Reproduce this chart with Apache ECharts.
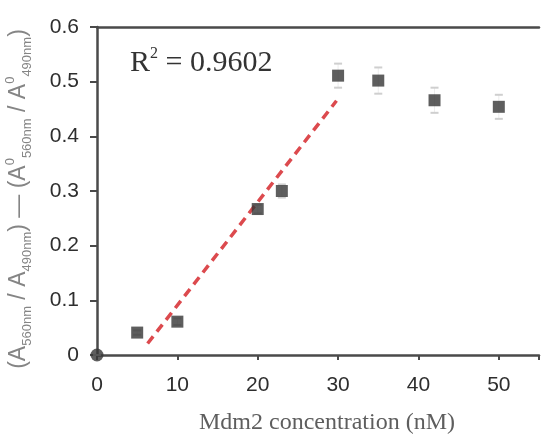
<!DOCTYPE html>
<html>
<head>
<meta charset="utf-8">
<style>
  html, body { margin: 0; padding: 0; background: #fff; }
  #chart { width: 542px; height: 437px; }
</style>
<script src="https://cdn.jsdelivr.net/npm/echarts@6/dist/echarts.min.js"></script>
</head>
<body>
<div id="chart"></div>
<script>
// Mdm2 titration: ratio change vs. concentration
const concentration = [0, 5, 10, 20, 23, 30, 35, 42, 50];          // nM
const ratioChange   = [0, 0.041, 0.061, 0.267, 0.300, 0.511, 0.502, 0.466, 0.454];
const ratioError    = [0, 0.004, 0.006, 0.008, 0.012, 0.022, 0.024, 0.023, 0.022];

// linear fit over the rising part (drawn dashed)
const trendX = [6.3, 29.8];
const trendY = [0.021, 0.465];
const rSquared = '0.9602';

const xTicks = [0, 10, 20, 30, 40, 50];
const yTicks = [0, 0.1, 0.2, 0.3, 0.4, 0.5, 0.6];

const sans = '"Liberation Sans", Arial, sans-serif';
const serif = '"Liberation Serif", "Times New Roman", serif';

const points = concentration.map((x, i) => {
  const p = { value: [x, ratioChange[i]] };
  if (x === 0) { p.symbol = 'circle'; p.symbolSize = 13; }
  return p;
});
const errData = concentration.map((x, i) => [x, ratioChange[i] - ratioError[i], ratioChange[i] + ratioError[i]]);
const trendData = trendX.map((x, i) => [x, trendY[i]]);

const chart = echarts.init(document.getElementById('chart'), null, { renderer: 'canvas' });

chart.setOption({
  animation: false,
  backgroundColor: '#ffffff',
  grid: { left: 97, top: 27, right: 0, bottom: 82, containLabel: false },
  xAxis: [{
    type: 'value', min: 0, max: 55, interval: 10,
    axisLine: { show: true, lineStyle: { color: '#4a4a4a', width: 2.5 } },
    axisTick: { show: true, length: 5, inside: false, lineStyle: { color: '#4a4a4a', width: 2 } },
    axisLabel: {
      margin: 20, fontFamily: sans, fontSize: 21, color: '#2e2e2e',
      formatter: v => xTicks.includes(v) ? String(v) : ''
    },
    splitLine: { show: false }
  }, {
    type: 'value', position: 'top', min: 0, max: 55,
    axisLine: { show: true, lineStyle: { color: '#4a4a4a', width: 2.5 } },
    axisTick: { show: false }, axisLabel: { show: false }, splitLine: { show: false }
  }],
  yAxis: {
    type: 'value', min: 0, max: 0.6, interval: 0.1,
    axisLine: { show: true, lineStyle: { color: '#4a4a4a', width: 2.5 } },
    axisTick: { show: true, length: 7, lineStyle: { color: '#4a4a4a', width: 2 } },
    axisLabel: {
      margin: 18, fontFamily: sans, fontSize: 21, color: '#2e2e2e',
      formatter: v => {
        const t = yTicks.find(k => Math.abs(k - v) < 1e-9);
        return t === undefined ? '' : (t === 0 ? '0' : t.toFixed(1));
      }
    },
    splitLine: { show: false }
  },
  series: [
    {
      // error bars (faint)
      type: 'custom',
      z: 1,
      data: errData,
      renderItem: (params, api) => {
        const x = api.value(0);
        const lo = api.coord([x, api.value(1)]);
        const hi = api.coord([x, api.value(2)]);
        const w = 4;
        return {
          type: 'group',
          children: [
            { type: 'line', shape: { x1: lo[0], y1: lo[1], x2: hi[0], y2: hi[1] },
              style: { stroke: '#ededed', lineWidth: 1 } },
            { type: 'line', shape: { x1: lo[0] - w, y1: lo[1], x2: lo[0] + w, y2: lo[1] },
              style: { stroke: '#cfcfcf', lineWidth: 2 } },
            { type: 'line', shape: { x1: hi[0] - w, y1: hi[1], x2: hi[0] + w, y2: hi[1] },
              style: { stroke: '#cfcfcf', lineWidth: 2 } }
          ]
        };
      }
    },
    {
      type: 'line',
      data: trendData,
      z: 2,
      symbol: 'none',
      lineStyle: { color: '#dc4a4e', width: 3.5, type: [9, 6] },
      silent: true
    },
    {
      type: 'scatter',
      data: points,
      z: 3,
      symbol: 'rect',
      symbolSize: 12,
      itemStyle: { color: '#363636', borderRadius: 2 }
    }
  ],
  graphic: [
    {
      type: 'text', left: 130, top: 44,
      style: {
        text: '{m|R}{s|2}{m| = ' + rSquared + '}',
        rich: {
          m: { fontFamily: serif, fontSize: 30, fill: '#333', lineHeight: 34, verticalAlign: 'bottom' },
          s: { fontFamily: serif, fontSize: 16, fill: '#333', lineHeight: 34, verticalAlign: 'top', padding: [2, 0, 0, 0] }
        }
      }
    },
    {
      type: 'text', x: 327, y: 423,
      style: {
        text: 'Mdm2 concentration (nM)',
        font: '24px ' + serif, fill: '#5e5e5e',
        align: 'center', verticalAlign: 'middle'
      }
    },
    {
      type: 'text', x: 19, y: 199, rotation: Math.PI / 2,
      style: {
        text: '{m|(A}{s|560nm}{m| / A}{s|490nm}{m|) — (A}{p|0}{s|560nm}{m| / A}{p|0}{s|490nm}{m|)}',
        align: 'center', verticalAlign: 'middle',
        rich: {
          m: { fontFamily: sans, fontSize: 23, fill: '#858585', lineHeight: 30, verticalAlign: 'middle' },
          s: { fontFamily: sans, fontSize: 13, fill: '#858585', lineHeight: 30, verticalAlign: 'bottom' },
          p: { fontFamily: sans, fontSize: 13, fill: '#858585', lineHeight: 30, verticalAlign: 'top' }
        }
      }
    }
  ]
});
</script>
</body>
</html>
